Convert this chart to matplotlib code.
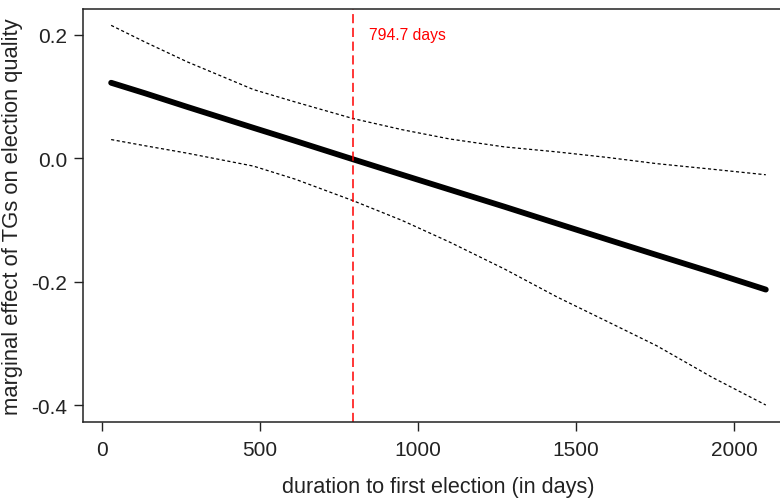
import matplotlib
matplotlib.use("Agg")
import matplotlib.pyplot as plt

# values
duration = [30, 137, 270, 480, 611, 795, 950, 1100, 1275, 1440, 1600, 1755, 1930, 2100]
effect = [0.122, 0.105, 0.083, 0.049, 0.028, -0.002, -0.027, -0.051,
          -0.079, -0.106, -0.132, -0.157, -0.185, -0.213]
upper = [0.215, 0.188, 0.156, 0.111, 0.091, 0.064, 0.046, 0.031,
         0.018, 0.010, 0.001, -0.009, -0.018, -0.027]
lower = [0.030, 0.020, 0.008, -0.013, -0.034, -0.069, -0.101, -0.136,
         -0.180, -0.225, -0.265, -0.304, -0.355, -0.400]
threshold = 794.7
x_ticks = [0, 500, 1000, 1500, 2000]
y_ticks = [0.2, 0.0, -0.2, -0.4]
y_tick_labels = ["0.2", "0.0", "-0.2", "-0.4"]

plt.rcParams["font.family"] = ["Liberation Sans", "DejaVu Sans"]
dark = "#222222"

fig = plt.figure(figsize=(7.8, 5.02), dpi=100)
ax = fig.add_axes([83 / 780, 1 - 422.7 / 502, 710 / 780, (422.7 - 10.3) / 502])

ax.plot(duration, effect, color="black", linewidth=4.2, solid_capstyle="round")
ax.plot(duration, upper, color="black", linewidth=0.9, linestyle=(0, (2.5, 2)))
ax.plot(duration, lower, color="black", linewidth=0.9, linestyle=(0, (2.5, 2)))
ax.axvline(threshold, color="red", linewidth=1.1, linestyle=(0, (6, 3)))
ax.text(threshold + 50, 0.2, f"{threshold} days", color="red",
        fontsize=11.3, ha="left", va="center")

ax.set_xlim(-59, 2186)
ax.set_ylim(-0.427, 0.241)
ax.set_xticks(x_ticks)
ax.set_yticks(y_ticks)
ax.set_yticklabels(y_tick_labels)

ax.spines["right"].set_visible(False)
for side in ["left", "top", "bottom"]:
    ax.spines[side].set_color(dark)
    ax.spines[side].set_linewidth(1.1)

ax.tick_params(axis="both", direction="out", length=6.5, width=1.0,
               colors=dark, labelsize=15)
ax.tick_params(axis="x", pad=7)
ax.tick_params(axis="y", pad=5)

ax.set_xlabel("duration to first election (in days)", fontsize=15.6,
              color=dark, labelpad=12)
ax.set_ylabel("marginal effect of TGs on election quality", fontsize=15.8,
              color=dark, labelpad=6)

fig.savefig("out.png", dpi=100)
